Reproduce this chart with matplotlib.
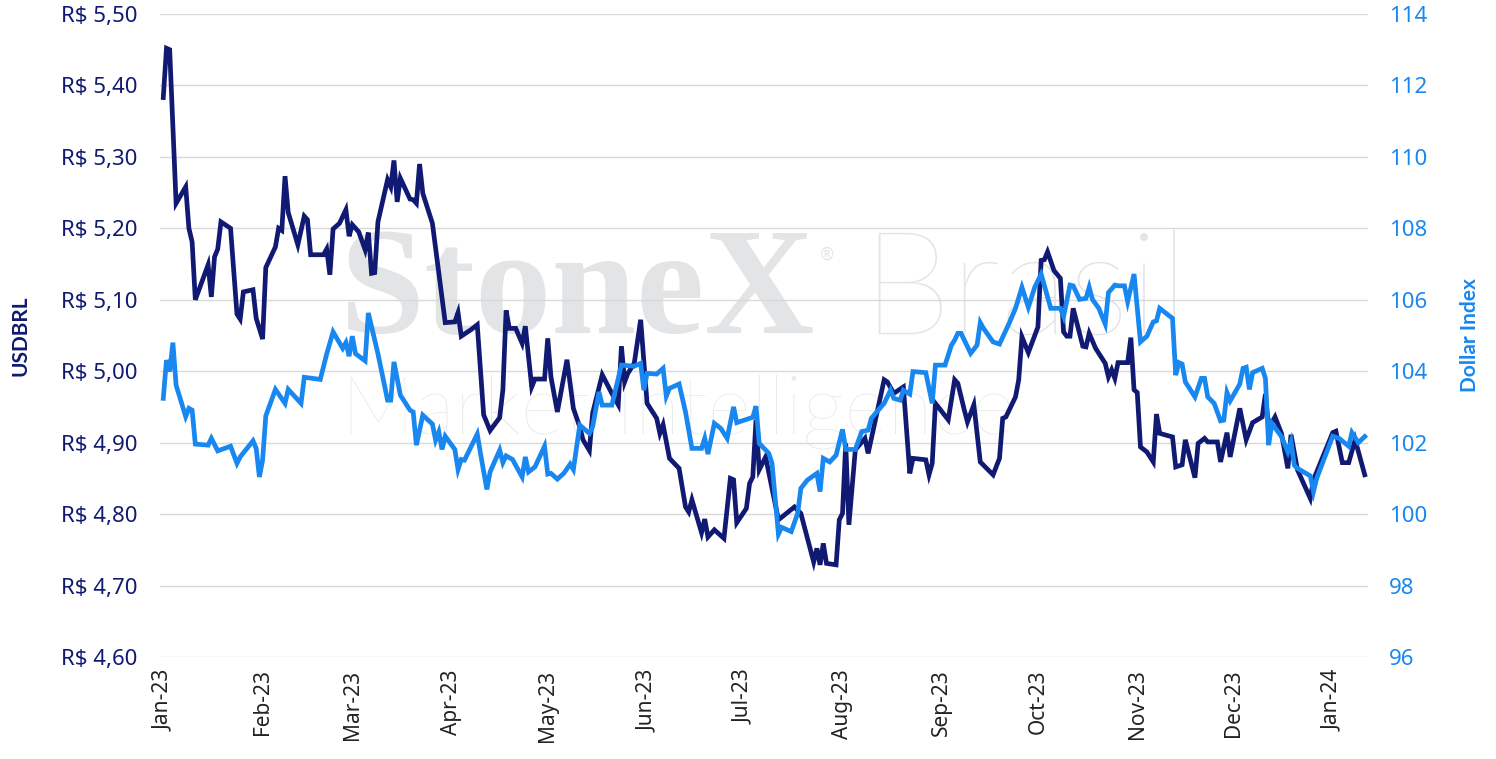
import matplotlib
matplotlib.use("Agg")
import matplotlib.pyplot as plt
import pandas as pd

# ---------------- data ----------------
brl_dates = [
    "2023-01-01", "2023-01-02", "2023-01-03", "2023-01-05", "2023-01-08", "2023-01-09", "2023-01-10", "2023-01-11",
    "2023-01-15", "2023-01-16", "2023-01-17", "2023-01-18", "2023-01-19", "2023-01-22", "2023-01-24", "2023-01-25",
    "2023-01-26", "2023-01-29", "2023-01-30", "2023-02-01", "2023-02-02", "2023-02-05", "2023-02-06", "2023-02-07",
    "2023-02-08", "2023-02-09", "2023-02-12", "2023-02-14", "2023-02-15", "2023-02-16", "2023-02-20", "2023-02-21",
    "2023-02-22", "2023-02-23", "2023-02-25", "2023-02-27", "2023-02-28", "2023-03-01", "2023-03-03", "2023-03-05",
    "2023-03-06", "2023-03-07", "2023-03-08", "2023-03-09", "2023-03-12", "2023-03-13", "2023-03-14", "2023-03-15",
    "2023-03-16", "2023-03-19", "2023-03-20", "2023-03-21", "2023-03-22", "2023-03-23", "2023-03-26", "2023-03-30",
    "2023-04-02", "2023-04-03", "2023-04-04", "2023-04-07", "2023-04-09", "2023-04-11", "2023-04-13", "2023-04-16",
    "2023-04-17", "2023-04-18", "2023-04-19", "2023-04-21", "2023-04-23", "2023-04-24", "2023-04-26", "2023-04-27",
    "2023-04-30", "2023-05-01", "2023-05-02", "2023-05-04", "2023-05-07", "2023-05-09", "2023-05-11", "2023-05-12",
    "2023-05-14", "2023-05-15", "2023-05-18", "2023-05-21", "2023-05-23", "2023-05-24", "2023-05-25", "2023-05-26",
    "2023-05-28", "2023-05-30", "2023-06-01", "2023-06-04", "2023-06-05", "2023-06-06", "2023-06-08", "2023-06-11",
    "2023-06-13", "2023-06-14", "2023-06-15", "2023-06-18", "2023-06-19", "2023-06-20", "2023-06-22", "2023-06-25",
    "2023-06-27", "2023-06-28", "2023-06-29", "2023-07-02", "2023-07-03", "2023-07-04", "2023-07-05", "2023-07-06",
    "2023-07-08", "2023-07-12", "2023-07-17", "2023-07-19", "2023-07-22", "2023-07-23", "2023-07-24", "2023-07-25",
    "2023-07-26", "2023-07-27", "2023-07-30", "2023-07-31", "2023-08-01", "2023-08-02", "2023-08-03", "2023-08-05",
    "2023-08-08", "2023-08-09", "2023-08-14", "2023-08-15", "2023-08-17", "2023-08-20", "2023-08-22", "2023-08-23",
    "2023-08-27", "2023-08-28", "2023-08-29", "2023-08-30", "2023-09-03", "2023-09-05", "2023-09-06", "2023-09-08",
    "2023-09-09", "2023-09-11", "2023-09-13", "2023-09-17", "2023-09-19", "2023-09-20", "2023-09-21", "2023-09-24",
    "2023-09-25", "2023-09-26", "2023-09-28", "2023-10-01", "2023-10-02", "2023-10-03", "2023-10-04", "2023-10-06",
    "2023-10-08", "2023-10-09", "2023-10-10", "2023-10-11", "2023-10-12", "2023-10-15", "2023-10-16", "2023-10-17",
    "2023-10-19", "2023-10-21", "2023-10-22", "2023-10-23", "2023-10-24", "2023-10-25", "2023-10-26", "2023-10-29",
    "2023-10-30", "2023-10-31", "2023-11-01", "2023-11-02", "2023-11-04", "2023-11-06", "2023-11-07", "2023-11-08",
    "2023-11-12", "2023-11-13", "2023-11-15", "2023-11-16", "2023-11-19", "2023-11-20", "2023-11-22", "2023-11-23",
    "2023-11-26", "2023-11-27", "2023-11-29", "2023-11-30", "2023-12-03", "2023-12-05", "2023-12-07", "2023-12-10",
    "2023-12-11", "2023-12-12", "2023-12-14", "2023-12-16", "2023-12-18", "2023-12-19", "2023-12-21", "2023-12-25",
    "2023-12-26", "2024-01-01", "2024-01-02", "2024-01-04", "2024-01-06", "2024-01-08", "2024-01-11",
]
brl_values = [
    5.383, 5.452, 5.450, 5.235, 5.258, 5.200, 5.181, 5.100,
    5.149, 5.104, 5.160, 5.171, 5.209, 5.200, 5.080, 5.073,
    5.111, 5.114, 5.074, 5.045, 5.145, 5.174, 5.200, 5.197,
    5.273, 5.222, 5.177, 5.217, 5.212, 5.163, 5.163, 5.171,
    5.135, 5.199, 5.207, 5.226, 5.189, 5.205, 5.195, 5.170,
    5.194, 5.137, 5.138, 5.209, 5.268, 5.258, 5.295, 5.237,
    5.270, 5.241, 5.240, 5.235, 5.290, 5.249, 5.207, 5.068,
    5.069, 5.082, 5.049, 5.058, 5.065, 4.939, 4.917, 4.935,
    4.974, 5.085, 5.060, 5.060, 5.039, 5.063, 4.978, 4.989,
    4.989, 5.046, 4.992, 4.943, 5.016, 4.948, 4.922, 4.904,
    4.889, 4.941, 4.995, 4.969, 4.953, 5.035, 4.985, 4.997,
    5.011, 5.072, 4.955, 4.934, 4.913, 4.925, 4.878, 4.864,
    4.810, 4.803, 4.820, 4.774, 4.793, 4.768, 4.778, 4.766,
    4.850, 4.848, 4.788, 4.808, 4.843, 4.852, 4.932, 4.862,
    4.880, 4.792, 4.810, 4.801, 4.750, 4.733, 4.752, 4.729,
    4.759, 4.731, 4.729, 4.792, 4.801, 4.899, 4.785, 4.890,
    4.906, 4.885, 4.988, 4.985, 4.969, 4.978, 4.857, 4.878,
    4.876, 4.855, 4.871, 4.955, 4.932, 4.988, 4.983, 4.946,
    4.929, 4.953, 4.873, 4.855, 4.878, 4.934, 4.936, 4.964,
    4.988, 5.048, 5.026, 5.062, 5.155, 5.156, 5.167, 5.141,
    5.130, 5.055, 5.049, 5.049, 5.088, 5.035, 5.034, 5.053,
    5.032, 5.018, 5.011, 4.992, 5.002, 4.990, 5.012, 5.012,
    5.047, 4.974, 4.970, 4.894, 4.887, 4.873, 4.940, 4.913,
    4.908, 4.866, 4.869, 4.904, 4.851, 4.899, 4.906, 4.901,
    4.901, 4.873, 4.914, 4.880, 4.948, 4.904, 4.928, 4.936,
    4.968, 4.920, 4.936, 4.913, 4.864, 4.911, 4.862, 4.822,
    4.848, 4.914, 4.916, 4.872, 4.872, 4.904, 4.855,
]

dxy_dates = [
    "2023-01-01", "2023-01-02", "2023-01-03", "2023-01-04", "2023-01-05", "2023-01-08", "2023-01-09", "2023-01-10",
    "2023-01-11", "2023-01-15", "2023-01-16", "2023-01-18", "2023-01-22", "2023-01-24", "2023-01-25", "2023-01-29",
    "2023-01-30", "2023-01-31", "2023-02-01", "2023-02-02", "2023-02-05", "2023-02-08", "2023-02-09", "2023-02-13",
    "2023-02-14", "2023-02-19", "2023-02-21", "2023-02-23", "2023-02-26", "2023-02-27", "2023-02-28", "2023-03-01",
    "2023-03-02", "2023-03-05", "2023-03-06", "2023-03-09", "2023-03-12", "2023-03-13", "2023-03-14", "2023-03-16",
    "2023-03-19", "2023-03-20", "2023-03-21", "2023-03-23", "2023-03-26", "2023-03-27", "2023-03-28", "2023-03-29",
    "2023-03-30", "2023-04-02", "2023-04-03", "2023-04-04", "2023-04-05", "2023-04-09", "2023-04-10", "2023-04-12",
    "2023-04-13", "2023-04-16", "2023-04-17", "2023-04-18", "2023-04-20", "2023-04-23", "2023-04-24", "2023-04-25",
    "2023-04-27", "2023-04-30", "2023-05-01", "2023-05-02", "2023-05-04", "2023-05-06", "2023-05-08", "2023-05-09",
    "2023-05-11", "2023-05-14", "2023-05-15", "2023-05-17", "2023-05-18", "2023-05-21", "2023-05-24", "2023-05-28",
    "2023-05-30", "2023-05-31", "2023-06-01", "2023-06-04", "2023-06-06", "2023-06-07", "2023-06-08", "2023-06-11",
    "2023-06-13", "2023-06-15", "2023-06-18", "2023-06-19", "2023-06-20", "2023-06-22", "2023-06-24", "2023-06-26",
    "2023-06-28", "2023-06-29", "2023-07-04", "2023-07-05", "2023-07-06", "2023-07-09", "2023-07-10", "2023-07-12",
    "2023-07-13", "2023-07-16", "2023-07-18", "2023-07-19", "2023-07-21", "2023-07-24", "2023-07-25", "2023-07-26",
    "2023-07-28", "2023-07-30", "2023-08-01", "2023-08-02", "2023-08-05", "2023-08-07", "2023-08-09", "2023-08-10",
    "2023-08-13", "2023-08-14", "2023-08-16", "2023-08-17", "2023-08-19", "2023-08-20", "2023-08-22", "2023-08-23",
    "2023-08-27", "2023-08-29", "2023-08-30", "2023-09-02", "2023-09-04", "2023-09-05", "2023-09-06", "2023-09-07",
    "2023-09-10", "2023-09-12", "2023-09-13", "2023-09-14", "2023-09-17", "2023-09-19", "2023-09-22", "2023-09-24",
    "2023-09-26", "2023-09-28", "2023-09-30", "2023-10-02", "2023-10-05", "2023-10-08", "2023-10-09", "2023-10-11",
    "2023-10-12", "2023-10-14", "2023-10-16", "2023-10-17", "2023-10-18", "2023-10-20", "2023-10-22", "2023-10-23",
    "2023-10-25", "2023-10-26", "2023-10-28", "2023-10-29", "2023-10-31", "2023-11-02", "2023-11-04", "2023-11-06",
    "2023-11-07", "2023-11-08", "2023-11-12", "2023-11-13", "2023-11-14", "2023-11-15", "2023-11-16", "2023-11-19",
    "2023-11-21", "2023-11-22", "2023-11-23", "2023-11-25", "2023-11-27", "2023-11-28", "2023-11-29", "2023-11-30",
    "2023-12-03", "2023-12-04", "2023-12-05", "2023-12-06", "2023-12-07", "2023-12-10", "2023-12-11", "2023-12-12",
    "2023-12-13", "2023-12-16", "2023-12-18", "2023-12-19", "2023-12-20", "2023-12-21", "2023-12-25", "2023-12-26",
    "2023-12-27", "2024-01-01", "2024-01-03", "2024-01-06", "2024-01-07", "2024-01-09", "2024-01-11",
]
dxy_values = [
    103.24, 104.31, 103.99, 104.80, 103.61, 102.73, 102.96, 102.91,
    101.96, 101.93, 102.12, 101.77, 101.90, 101.42, 101.60, 102.05,
    101.84, 101.04, 101.51, 102.75, 103.49, 103.10, 103.49, 103.10,
    103.83, 103.77, 104.48, 105.10, 104.64, 104.80, 104.42, 104.98,
    104.49, 104.29, 105.63, 104.49, 103.19, 103.19, 104.26, 103.33,
    102.91, 102.86, 101.93, 102.77, 102.52, 102.07, 102.30, 101.81,
    102.18, 101.81, 101.25, 101.53, 101.51, 102.24, 101.70, 100.69,
    101.18, 101.79, 101.44, 101.63, 101.53, 101.04, 101.60, 101.18,
    101.32, 101.90, 101.12, 101.14, 100.98, 101.14, 101.40, 101.25,
    102.49, 102.26, 102.44, 103.42, 103.05, 103.05, 104.17, 104.14,
    104.22, 103.47, 103.94, 103.92, 104.08, 103.30, 103.52, 103.64,
    102.86, 101.84, 101.84, 102.12, 101.68, 102.54, 102.40, 102.12,
    103.00, 102.56, 102.71, 103.02, 101.98, 101.70, 101.42, 99.44,
    99.63, 99.51, 100.02, 100.72, 100.95, 101.14, 100.63, 101.56,
    101.46, 101.65, 102.37, 101.81, 101.81, 102.31, 102.35, 102.68,
    103.00, 103.10, 103.47, 103.24, 103.19, 103.47, 103.36, 103.99,
    103.96, 103.10, 104.17, 104.17, 104.73, 104.87, 105.06, 105.06,
    104.50, 104.73, 105.36, 105.20, 104.82, 104.76, 105.34, 105.76,
    106.35, 105.79, 106.35, 106.72, 105.76, 105.76, 105.53, 106.41,
    106.39, 106.01, 106.04, 106.35, 106.01, 105.76, 105.32, 106.20,
    106.41, 106.39, 106.39, 105.95, 106.72, 104.82, 104.98, 105.38,
    105.41, 105.76, 105.48, 103.89, 104.24, 104.20, 103.70, 103.28,
    103.80, 103.80, 103.28, 103.10, 102.61, 102.63, 103.40, 103.17,
    103.64, 104.08, 104.11, 103.49, 103.96, 104.08, 103.80, 101.93,
    102.54, 102.17, 101.74, 102.02, 101.37, 101.28, 101.07, 100.63,
    101.00, 102.18, 102.12, 101.90, 102.28, 102.00, 102.17,
]

brl_ticks = [4.60, 4.70, 4.80, 4.90, 5.00, 5.10, 5.20, 5.30, 5.40, 5.50]
dxy_ticks = [96, 98, 100, 102, 104, 106, 108, 110, 112, 114]
month_ticks = ["2023-01-01", "2023-02-01", "2023-03-01", "2023-04-01", "2023-05-01", "2023-06-01",
               "2023-07-01", "2023-08-01", "2023-09-01", "2023-10-01", "2023-11-01", "2023-12-01", "2024-01-01"]

# ---------------- style ----------------
NAVY = "#111a72"
BLUE = "#1887f0"
FONT = "Noto Sans"
WM = "#e3e4e6"

fig = plt.figure(figsize=(14.96, 7.59), dpi=100)
ax = fig.add_axes([0.107, 0.1344, 0.8074, 0.8472])
ax2 = ax.twinx()

# watermark
fig.text(0.227, 0.561, "StoneX", fontsize=110, fontweight="bold", family="Liberation Serif",
         color=WM, va="baseline", zorder=0)
fig.text(0.547, 0.658, "®", fontsize=12, family="DejaVu Sans", color=WM, zorder=0)
fig.text(0.576, 0.561, "Brasil", fontsize=104, fontweight="light", family="Lato",
         color=WM, va="baseline", zorder=0)
fig.text(0.228, 0.427, "Market Intelligence", fontsize=60, fontweight="light", family="Lato",
         color="#e8e9eb", va="baseline", zorder=0)

ax.set_zorder(2)
ax2.set_zorder(3)
ax.patch.set_visible(False)
ax2.patch.set_visible(False)

bd = pd.to_datetime(brl_dates)
dd = pd.to_datetime(dxy_dates)

ax.plot(bd, brl_values, color=NAVY, lw=3.4, solid_joinstyle="miter", zorder=3)
ax2.plot(dd, dxy_values, color=BLUE, lw=3.4, solid_joinstyle="miter", zorder=2)

ax.set_ylim(4.60, 5.50)
ax2.set_ylim(96, 114)
ax.set_yticks(brl_ticks)
ax.set_yticklabels([f"R$ {v:.2f}".replace(".", ",") for v in brl_ticks],
                   fontsize=16, color=NAVY, family=FONT)
ax2.set_yticks(dxy_ticks)
ax2.set_yticklabels([str(v) for v in dxy_ticks], fontsize=16, color=BLUE, family=FONT)

ax.set_xlim(pd.Timestamp("2022-12-31"), pd.Timestamp("2024-01-12"))
mt = pd.to_datetime(month_ticks)
ax.set_xticks(mt)
ax.set_xticklabels([d.strftime("%b-%y") for d in mt], rotation=90, fontsize=15,
                   color="#222222", family=FONT)

ax.grid(axis="y", color="#d9d9d9", lw=1)
ax.set_axisbelow(True)
for a in (ax, ax2):
    for s in a.spines.values():
        s.set_visible(False)
    a.tick_params(length=0)
ax.tick_params(axis="y", pad=16)
ax2.tick_params(axis="y", pad=15)
ax.tick_params(axis="x", pad=9)

ax.set_ylabel("USDBRL", fontsize=15, fontweight="bold", color=NAVY, family="Lato", labelpad=22)
ax2.set_ylabel("Dollar Index", fontsize=15, fontweight="bold", color=BLUE, family="Lato", labelpad=24)

fig.savefig("out.png", dpi=100)
